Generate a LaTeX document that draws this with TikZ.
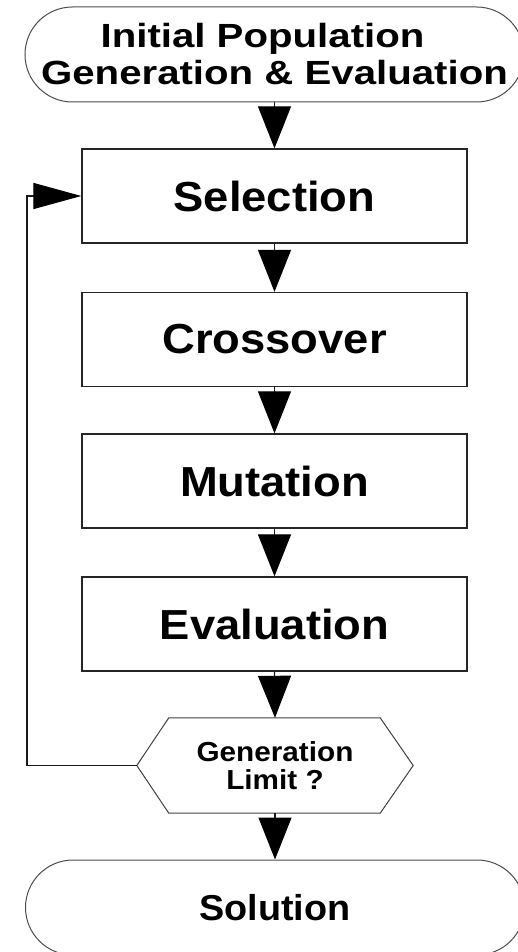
\documentclass[tikz,border=0pt]{standalone}
\usepackage{fontspec}
\setmainfont{Liberation Sans}
\usepackage{graphicx}
\usetikzlibrary{arrows.meta,shapes.misc}
\begin{document}
\begin{tikzpicture}[x=1pt,y=-1pt,
  box/.style={draw=black!85,line width=1.3pt,minimum width=385pt,minimum height=94pt,inner sep=0pt,
    font=\bfseries\fontsize{42}{48}\selectfont},
  term/.style={draw=black!70,line width=1pt,rounded rectangle,minimum width=499pt,minimum height=95pt,inner sep=0pt},
  hexbox/.style={minimum width=276pt,minimum height=95pt,inner sep=0pt,align=center,
    font=\bfseries\fontsize{27.5}{28.5}\selectfont},
  hexline/.style={draw=black!75,line width=1pt,line join=miter},
  flow/.style={draw=black!90,line width=1.2pt,-{Triangle[length=42pt,width=33pt,fill=black,color=black]}},
  loopflow/.style={draw=black!90,line width=1.2pt,-{Triangle[length=48pt,width=26pt,fill=black,color=black]}},
  ]
\useasboundingbox (0,0) rectangle (518,952);
\clip (0,0) rectangle (518,952);

\node[term,align=center,font=\bfseries\fontsize{33.5}{37}\selectfont] (init) at (274.5,54.5)
  {\scalebox{1.2}[1]{Initial Population\hspace{20pt}}\\\scalebox{1.2}[1]{Generation \& Evaluation}};
\node[box] (sel) at (274.5,196) {\scalebox{1.08}[1]{Selection}};
\node[box] (cro) at (274.5,339.5) {\scalebox{1.08}[1]{Crossover}};
\node[box] (mut) at (274.5,481) {\scalebox{1.08}[1]{Mutation}};
\node[box] (eva) at (274.5,624) {\scalebox{1.08}[1]{Evaluation}};
\node[hexbox] (hex) at (275,765.5) {\scalebox{1.08}[1]{Generation}\\\scalebox{1.08}[1]{Limit ?}};
\draw[hexline] (hex.west) -- ([xshift=32pt]hex.north west) -- ([xshift=-33pt]hex.north east)
  -- (hex.east) -- ([xshift=-33pt]hex.south east) -- ([xshift=32pt]hex.south west) -- cycle;
\node[term,font=\bfseries\fontsize{36}{40}\selectfont] (sol) at (275,907.5) {\scalebox{1.05}[1]{Solution}};

\coordinate (loopx) at (27,196);

\draw[flow] (init.south) -- (sel.north);
\draw[flow] (sel.south) -- (cro.north);
\draw[flow] (cro.south) -- (mut.north);
\draw[flow] (mut.south) -- (eva.north);
\draw[flow] (eva.south) -- (hex.north);
\draw[flow] (hex.south) -- (sol.north);
\draw[loopflow] (hex.west) -| (loopx) -- (sel.west);
\end{tikzpicture}
\end{document}
